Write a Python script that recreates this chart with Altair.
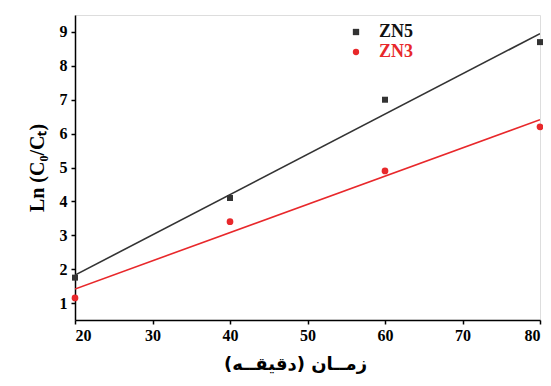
import altair as alt
import pandas as pd

time_min = [20, 40, 60, 80]
zn5 = [1.75, 4.1, 7.0, 8.7]
zn3 = [1.15, 3.4, 4.9, 6.2]
series_names = ["ZN5", "ZN3"]
series_colors = ["#333333", "#e8282b"]
label_colors = ["#111111", "#e8282b"]
x_ticks = [20, 30, 40, 50, 60, 70, 80]
y_ticks = [1, 2, 3, 4, 5, 6, 7, 8, 9]

rows = []
for name, vals in zip(series_names, [zn5, zn3]):
    for t, v in zip(time_min, vals):
        rows.append({"t": t, "v": v, "s": name})
df = pd.DataFrame(rows)

FONT = "Liberation Serif"
xs = alt.Scale(domain=[20, 80], nice=False, zero=False)
ys = alt.Scale(domain=[0.5, 9.5], nice=False, zero=False)
cs = alt.Scale(domain=series_names, range=series_colors)

xaxis = alt.Axis(values=x_ticks, title="زمــان (دقیقــه)", titleFont="DejaVu Sans",
                 titleFontSize=18, titleFontWeight="bold", titlePadding=12, titleX=220,
                 labelFont=FONT, labelFontSize=16, labelFontWeight="bold",
                 labelColor="black", titleColor="black", domainColor="black",
                 domainWidth=1.5, tickColor="black", tickWidth=1.5, tickSize=4,
                 grid=False, labelPadding=3, labelOverlap=False)
yaxis = alt.Axis(values=y_ticks, title="Ln (C₀/Cₜ)", titleFont=FONT,
                 titleFontSize=20, titleFontWeight="bold", titlePadding=12,
                 labelFont=FONT, labelFontSize=16, labelFontWeight="bold",
                 labelColor="black", titleColor="black", domainColor="black",
                 domainWidth=1.5, tickColor="black", tickWidth=1.5, tickSize=4,
                 grid=False, labelPadding=4, labelOverlap=False)

base = alt.Chart(df)

lines = base.transform_regression("t", "v", groupby=["s"], extent=[20, 80]).mark_line(
    strokeWidth=1.6, clip=True
).encode(
    x=alt.X("t:Q", scale=xs, axis=xaxis),
    y=alt.Y("v:Q", scale=ys, axis=yaxis),
    color=alt.Color("s:N", scale=cs, legend=None),
)

sq = base.transform_filter(alt.datum.s == "ZN5").mark_square(size=36, opacity=1).encode(
    x=alt.X("t:Q", scale=xs, axis=xaxis), y=alt.Y("v:Q", scale=ys, axis=yaxis),
    color=alt.Color("s:N", scale=cs, legend=None),
)
ci = base.transform_filter(alt.datum.s == "ZN3").mark_circle(size=45, opacity=1).encode(
    x=alt.X("t:Q", scale=xs, axis=xaxis), y=alt.Y("v:Q", scale=ys, axis=yaxis),
    color=alt.Color("s:N", scale=cs, legend=None),
)

leg_df = pd.DataFrame({"s": series_names})
leg_layers = []
for i, (name, shp, col, lcol) in enumerate(zip(series_names, ["square", "circle"], series_colors, label_colors)):
    yy = 17 + 20 * i
    lb = alt.Chart(leg_df).transform_filter(alt.datum.s == name)
    leg_layers.append(lb.mark_point(filled=True, size=40, opacity=1, shape=shp, color=col).encode(
        x=alt.value(281), y=alt.value(yy)))
    leg_layers.append(lb.mark_text(align="left", baseline="middle", font=FONT, fontSize=18,
                                   fontWeight="bold", color=lcol).encode(
        x=alt.value(304), y=alt.value(yy), text="s:N"))

chart = alt.layer(lines, sq, ci, *leg_layers).properties(
    width=465, height=305,
    autosize=alt.AutoSizeParams(type="none"),
    padding={"left": 67, "top": 7, "right": 3, "bottom": 64},
).configure_view(stroke="black", strokeWidth=1.5).configure(background="white")

chart.save("out.html", embed_options={"renderer": "svg", "actions": False})
